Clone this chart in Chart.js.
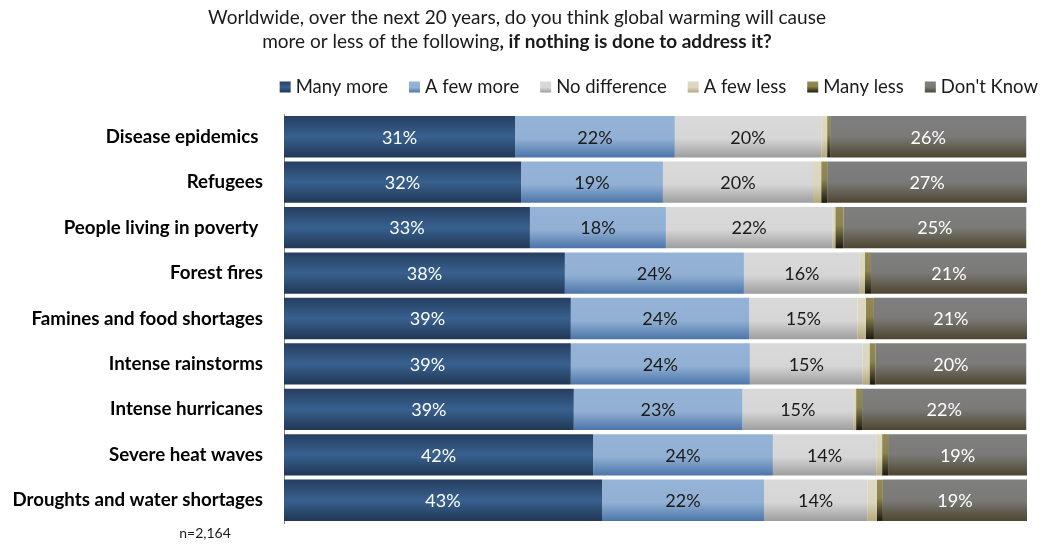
<!DOCTYPE html>
<html>
<head>
<meta charset="utf-8">
<script src="https://cdn.jsdelivr.net/npm/chart.js@4.4.0/dist/chart.umd.min.js"></script>
<style>
  html, body { margin: 0; background: #fff; }
  #wrap { width: 1041px; height: 544px; }
</style>
</head>
<body>
<div id="wrap"><canvas id="chart"></canvas></div>
<script>
// data (percent of respondents)
const categories = ['Disease epidemics ', 'Refugees', 'People living in poverty ', 'Forest fires',
  'Famines and food shortages', 'Intense rainstorms', 'Intense hurricanes', 'Severe heat waves',
  'Droughts and water shortages'];
const seriesNames = ['Many more', 'A few more', 'No difference', 'A few less', 'Many less', "Don't Know"];
const manyMore     = [31.1, 31.9, 33.1, 37.8, 38.6, 38.6, 39.0, 41.6, 42.8];
const aFewMore     = [21.5, 19.1, 18.3, 24.1, 24.0, 24.1, 22.7, 24.2, 21.8];
const noDifference = [19.7, 20.2, 22.4, 15.6, 14.6, 15.2, 14.9, 13.9, 13.9];
const aFewLess     = [0.8, 1.1, 0.4, 0.7, 1.1, 0.9, 0.4, 0.8, 1.3];
const manyLess     = [0.4, 0.8, 1.1, 0.8, 1.1, 0.8, 0.8, 0.8, 0.8];
const dontKnow     = [26.4, 26.9, 24.6, 21.0, 20.7, 20.3, 22.1, 18.7, 19.4];
const sampleNote = 'n=2,164';

// top to bottom shading of each series
const shades = [
  [[0, '#263e60'], [0.5, '#38618f'], [1, '#213755']],
  [[0, '#95b3d7'], [0.55, '#92b0d4'], [1, '#4b75a9']],
  [[0, '#d9d9d9'], [0.55, '#d6d6d6'], [1, '#9e9e9e']],
  [[0, '#ddd9c3'], [0.55, '#dbd6bd'], [1, '#b3a87a']],
  [[0, '#948a54'], [0.45, '#8c824d'], [1, '#1b190e']],
  [[0, '#7f7f7f'], [0.5, '#7b7a77'], [1, '#4d4530']]
];
const labelColors = ['#ffffff', '#1a1a1a', '#1a1a1a', '#1a1a1a', '#1a1a1a', '#ffffff'];
const BAR_PCT = 0.91;
const FONT = "Lato, Carlito, Calibri, 'Open Sans', sans-serif";

function fillFrom(stops, y0, y1, ctx) {
  const g = ctx.createLinearGradient(0, y0, 0, y1);
  stops.forEach(([o, c]) => g.addColorStop(o, c));
  return g;
}

function barFill(stops) {
  return (c) => {
    const y = c.chart.scales.y;
    if (!y || c.type !== 'data') return stops[1][1];
    const mid = y.getPixelForValue(c.dataIndex);
    const half = y.height / categories.length * BAR_PCT / 2;
    if (!isFinite(mid) || !isFinite(half) || half <= 0) return stops[1][1];
    return fillFrom(stops, mid - half, mid + half, c.chart.ctx);
  };
}

const series = [manyMore, aFewMore, noDifference, aFewLess, manyLess, dontKnow];

const header = {
  id: 'header',
  afterDraw(chart) {
    const ctx = chart.ctx;
    ctx.save();
    ctx.fillStyle = '#1a1a1a';
    ctx.textBaseline = 'middle';
    // title
    ctx.font = '19px ' + FONT;
    ctx.textAlign = 'center';
    ctx.fillText('Worldwide, over the next 20 years, do you think global warming will cause', 517, 18);
    const a = 'more or less of the following';
    const b = ', if nothing is done to address it?';
    ctx.font = '19px ' + FONT;
    const wa = ctx.measureText(a).width;
    ctx.font = 'bold 19px ' + FONT;
    const wb = ctx.measureText(b).width;
    let x = 517 - (wa + wb) / 2;
    ctx.textAlign = 'left';
    ctx.font = '19px ' + FONT;
    ctx.fillText(a, x, 42);
    ctx.font = 'bold 19px ' + FONT;
    ctx.fillText(b, x + wa, 42);

    // legend, right aligned
    ctx.font = '18.5px ' + FONT;
    const box = 11, gapText = 5, gapItem = 21, ly = 87;
    const widths = seriesNames.map(n => box + gapText + ctx.measureText(n).width);
    let lx = 1038 - widths.reduce((s, w) => s + w, 0) - gapItem * (seriesNames.length - 1);
    seriesNames.forEach((n, i) => {
      ctx.fillStyle = fillFrom(shades[i], ly - box / 2, ly + box / 2, ctx);
      ctx.fillRect(lx, ly - box / 2, box, box);
      ctx.fillStyle = '#1a1a1a';
      ctx.fillText(n, lx + box + gapText, ly);
      lx += widths[i] + gapItem;
    });

    // sample size
    ctx.font = '14px ' + FONT;
    ctx.textAlign = 'center';
    ctx.fillText(sampleNote, 205, 533);
    ctx.restore();
  }
};

const barLabels = {
  id: 'barLabels',
  afterDatasetsDraw(chart) {
    const ctx = chart.ctx;
    ctx.save();
    ctx.font = '18px ' + FONT;
    ctx.textAlign = 'center';
    ctx.textBaseline = 'middle';
    chart.data.datasets.forEach((ds, di) => {
      chart.getDatasetMeta(di).data.forEach((el, i) => {
        const v = ds.data[i];
        if (v < 5) return;
        ctx.fillStyle = labelColors[di];
        ctx.fillText(Math.round(v) + '%', (el.x + el.base) / 2, el.y + 1);
      });
    });
    ctx.restore();
  }
};

const chart = new Chart(document.getElementById('chart'), {
  type: 'bar',
  data: {
    labels: categories,
    datasets: series.map((d, i) => ({
      label: seriesNames[i],
      data: d,
      backgroundColor: barFill(shades[i]),
      borderWidth: 0,
      barPercentage: BAR_PCT,
      categoryPercentage: 1
    }))
  },
  options: {
    indexAxis: 'y',
    responsive: true,
    maintainAspectRatio: false,
    animation: false,
    layout: { padding: { top: 114, bottom: 21, left: 0, right: 14 } },
    plugins: {
      legend: { display: false },
      tooltip: { enabled: false }
    },
    scales: {
      x: { stacked: true, min: 0, max: 100, display: false },
      y: {
        stacked: true,
        grid: { display: false, drawTicks: false },
        border: { display: true, color: '#868686', width: 1 },
        ticks: { color: '#000', padding: 21, font: { family: FONT, size: 18.7, weight: 'bold' } },
        afterFit: (s) => { s.width = 284; s.paddingTop = 0; s.paddingBottom = 0; }
      }
    }
  },
  plugins: [header, barLabels]
});
chart.update();
</script>
</body>
</html>
